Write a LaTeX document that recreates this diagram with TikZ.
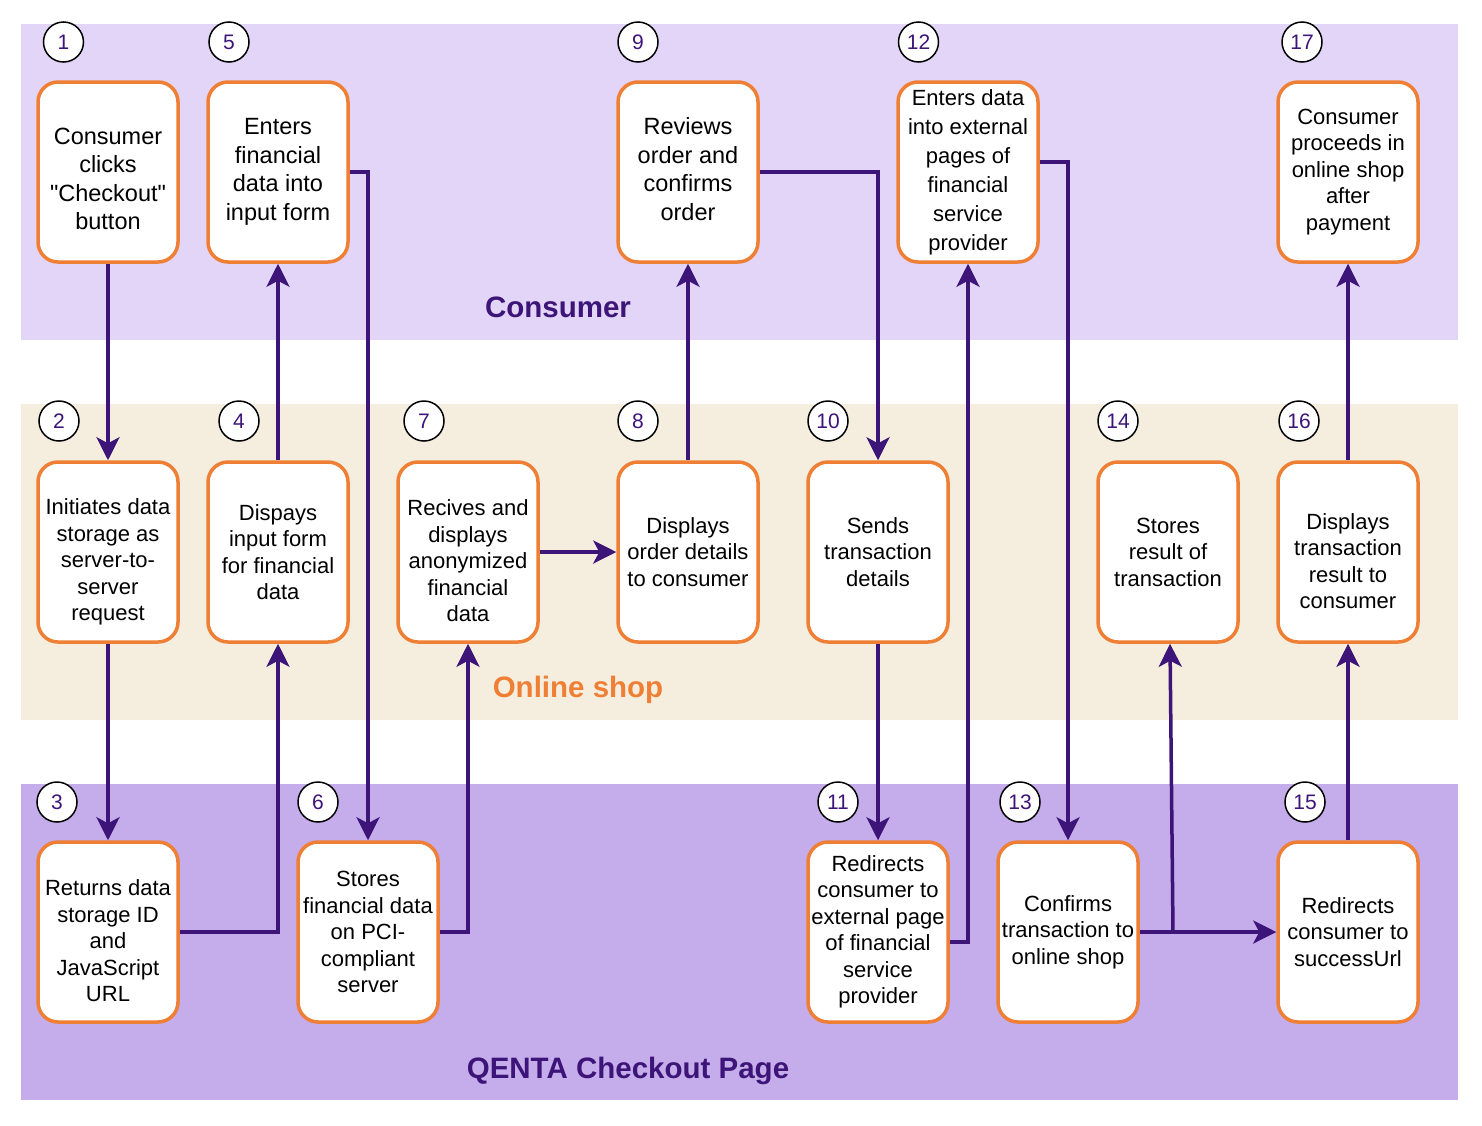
\documentclass[tikz,border=0pt]{standalone}
\usepackage{fontspec}
\setmainfont{Liberation Sans}[Ligatures=TeXOff]
\usetikzlibrary{arrows.meta}
\definecolor{bandA}{RGB}{227,213,247}
\definecolor{bandB}{RGB}{245,238,223}
\definecolor{bandC}{RGB}{197,172,234}
\definecolor{boxline}{RGB}{238,127,52}
\definecolor{conn}{RGB}{61,20,120}
\begin{document}
\begin{tikzpicture}[x=1pt,y=-1pt,
 stepbox/.style={draw=boxline, line width=3.5pt, fill=white, rounded corners=20pt,
   minimum width=140pt, minimum height=180pt, inner sep=1pt, align=center,
   font=\fontsize{22}{26.5}\selectfont},
 boxtext/.style={inner sep=0pt, align=center, font=\fontsize{22}{26.5}\selectfont},
 bigtext/.style={font=\fontsize{23.5}{28.5}\selectfont},
 numc/.style={circle, draw=black, line width=1.5pt, fill=white, minimum size=40pt,
   inner sep=0pt, text=conn, font=\fontsize{21}{21}\selectfont},
 flow/.style={draw=conn, line width=3.5pt, -{Stealth[length=23pt,width=23pt,inset=6pt]}},
 lanelabel/.style={font=\bfseries\fontsize{29.5}{30}\selectfont}
]
\useasboundingbox (0,0) rectangle (1482,1125);
% bands
\fill[bandA] (21,24) rectangle (1458,340);
\fill[bandB] (21,404) rectangle (1458,720);
\fill[bandC] (21,784) rectangle (1458,1100);
\node[lanelabel, text=conn] (lc) at (558,307) {Consumer};
\node[lanelabel, text=boxline] (lo) at (578,690) {Online shop};
\node[lanelabel, text=conn] (lq) at (628,1071) {QENTA Checkout Page};

% row 1
\node[stepbox] (b1) at (108,172) {};
\node[boxtext,bigtext] (t1) at ([yshift=-7pt]b1.center) {Consumer\\clicks\\"Checkout"\\button};
\node[stepbox] (b5) at (278,172) {};
\node[boxtext,bigtext] (t5) at (b5.center) {Enters\\financial\\data into\\input form};
\node[stepbox] (b9) at (688,172) {};
\node[boxtext,bigtext] (t9) at ([yshift=3pt]b9.center) {Reviews\\order and\\confirms\\order};
\node[stepbox,font=\fontsize{22}{29}\selectfont] (b12) at (968,172) {Enters data\\into external\\pages of\\financial\\service\\provider};
\node[stepbox] (b17) at (1348,172) {Consumer\\proceeds in\\online shop\\after\\payment};
% row 2
\node[stepbox] (b2) at (108,552) {};
\node[boxtext] (t2) at ([yshift=-10pt]b2.center) {Initiates data\\storage as\\server-to-\\server\\request};
\node[stepbox] (b4) at (278,552) {Dispays\\input form\\for financial\\data};
\node[stepbox] (b7) at (468,552) {};
\node[boxtext] (t7) at ([yshift=-9pt]b7.center) {Recives and\\displays\\anonymized\\financial\\data};
\node[stepbox] (b8) at (688,552) {Displays\\order details\\to consumer};
\node[stepbox] (b10) at (878,552) {Sends\\transaction\\details};
\node[stepbox] (b14) at (1168,552) {Stores\\result of\\transaction};
\node[stepbox] (b16) at (1348,552) {};
\node[boxtext] (t16) at ([yshift=-9pt]b16.center) {Displays\\transaction\\result to\\consumer};
% row 3
\node[stepbox] (b3) at (108,932) {};
\node[boxtext] (t3) at ([yshift=-9pt]b3.center) {Returns data\\storage ID\\and\\JavaScript\\URL};
\node[stepbox] (b6) at (368,932) {Stores\\financial data\\on PCI-\\compliant\\server};
\node[stepbox] (b11) at (878,932) {Redirects\\consumer to\\external page\\of financial\\service\\provider};
\node[stepbox] (b13) at (1068,932) {Confirms\\transaction to\\online shop};
\node[stepbox] (b15) at (1348,932) {Redirects\\consumer to\\successUrl};

% number circles
\node[numc] (n1) at (63.5,42) {1};
\node[numc] (n5) at (229,42) {5};
\node[numc] (n9) at (638,42) {9};
\node[numc] (n12) at (918.5,42) {12};
\node[numc] (n17) at (1302,42) {17};
\node[numc] (n2) at (59,421) {2};
\node[numc] (n4) at (239,421) {4};
\node[numc] (n7) at (424,421) {7};
\node[numc] (n8) at (638,421) {8};
\node[numc] (n10) at (828,421) {10};
\node[numc] (n14) at (1118,421) {14};
\node[numc] (n16) at (1299,421) {16};
\node[numc] (n3) at (57,802) {3};
\node[numc] (n6) at (318,802) {6};
\node[numc] (n11) at (838,802) {11};
\node[numc] (n13) at (1020,802) {13};
\node[numc] (n15) at (1305,802) {15};

% connectors
\draw[flow] (b1) -- (b2);
\draw[flow] (b2) -- (b3);
\draw[flow] (b3.east) -| (b4.south);
\draw[flow] (b4) -- (b5);
\draw[flow] (b5.east) -| (b6.north);
\draw[flow] (b6.east) -| (b7.south);
\draw[flow] (b7) -- (b8);
\draw[flow] (b8) -- (b9);
\draw[flow] (b9.east) -| (b10.north);
\draw[flow] (b10) -- (b11);
\draw[flow] ([yshift=-10pt]b11.east) -| (b12.south);
\draw[flow] ([yshift=10pt]b12.east) -| (b13.north);
\draw[flow] (b13) -- (b15);
\coordinate (j) at (1173,932);
\draw[flow] (j) -- ([xshift=2pt]b14.south);
\draw[flow] (b15) -- (b16);
\draw[flow] (b16) -- (b17);
\end{tikzpicture}
\end{document}
